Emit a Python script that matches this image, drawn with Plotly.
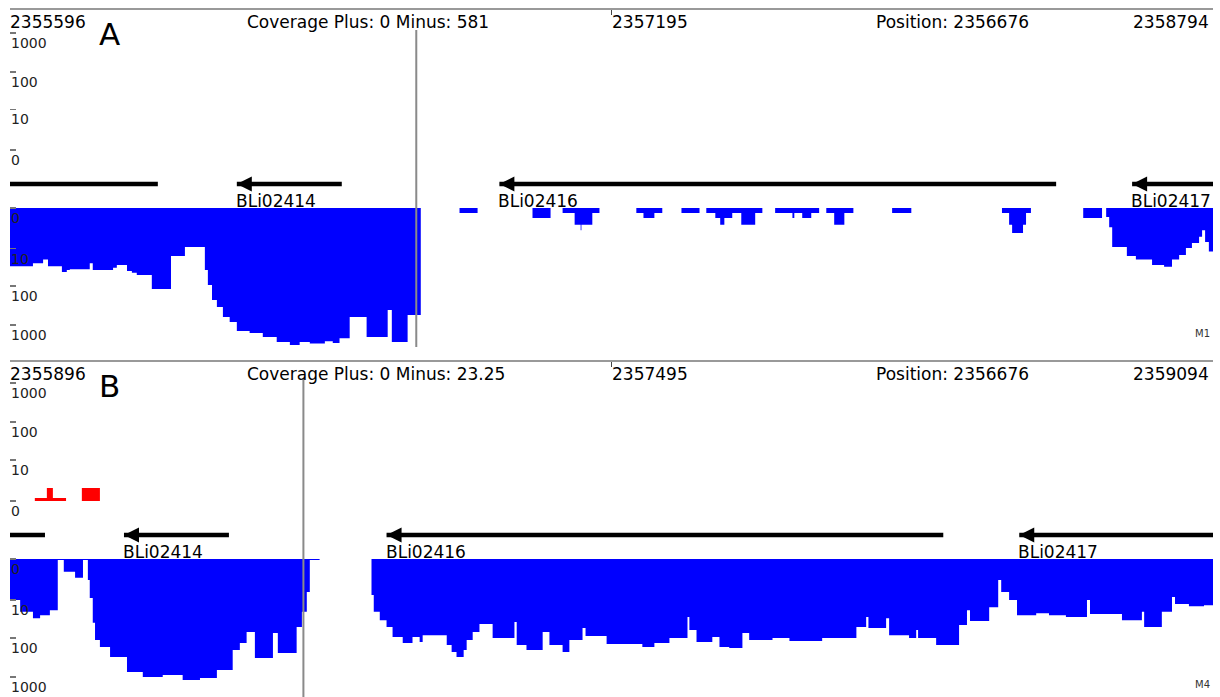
import numpy as np
import plotly.graph_objects as go

W, H = 1220, 697

# ---------------- data ----------------
ruler_a = [2355596, 2357195, 2358794]
ruler_b = [2355896, 2357495, 2359094]
cursor_pos = 2356676
coverage_text_a = "Coverage Plus: 0 Minus: 581"
coverage_text_b = "Coverage Plus: 0 Minus: 23.25"
panel_letters = ["A", "B"]
panel_tags = ["M1", "M4"]
scale_ticks = [0, 10, 100, 1000]

# minus-strand coverage, panel A (segment start position, read count)
minus_a_pos = [2355596, 2355657, 2355684, 2355697, 2355734, 2355747, 2355755, 2355808, 2355816,
               2355870, 2355880, 2355907, 2355920, 2355933, 2355973, 2356024, 2356061, 2356114,
               2356122, 2356133, 2356146, 2356162, 2356180, 2356199, 2356233, 2356268, 2356305,
               2356340, 2356366, 2356393, 2356433, 2356454, 2356472, 2356499, 2356544, 2356600,
               2356611, 2356653, 2356688, 2356791, 2356839, 2356985, 2357033, 2357065, 2357097,
               2357113, 2357115, 2357144, 2357163, 2357261, 2357280, 2357309, 2357330, 2357381,
               2357429, 2357447, 2357471, 2357484, 2357495, 2357516, 2357540, 2357577, 2357596,
               2357630, 2357676, 2357681, 2357702, 2357726, 2357747, 2357766, 2357787, 2357814,
               2357838, 2357941, 2357992, 2358233, 2358252, 2358260, 2358289, 2358297, 2358310,
               2358449, 2358499, 2358510, 2358518, 2358526, 2358565, 2358589, 2358632, 2358664,
               2358685, 2358704, 2358722, 2358738, 2358757, 2358765, 2358773, 2358783, 2358794]
minus_a_cov = [30, 25, 20, 30, 43, 38, 36, 25, 38,
               33, 28, 40, 45, 51, 119, 16, 9, 38,
               93, 229, 345, 621, 835, 1420, 1600, 2030, 2730,
               3260, 2730, 3000, 2600, 2900, 2200, 621, 2030, 412,
               2730, 555, 0, 0.34, 0, 0.8, 0, 0.34, 1.7,
               2.7, 1.7, 0.34, 0, 0.34, 0.8, 0.34, 0, 0.34,
               0, 0.34, 0.8, 1.7, 0.8, 0.34, 1.7, 0.34, 0,
               0.34, 0.8, 0.34, 0.8, 0.34, 0, 0.34, 1.7, 0.34,
               0, 0.34, 0, 0.34, 1.7, 3.4, 1.7, 0.34, 0,
               0.8, 0, 0.7, 2.1, 9, 16, 20, 28, 31,
               20, 15, 9.6, 6.9, 4.5, 2.7, 6.4, 12, 12]

# minus-strand coverage, panel B
minus_b_pos = [2355896, 2355923, 2355957, 2355976, 2356002, 2356023, 2356039, 2356069, 2356090,
               2356103, 2356108, 2356116, 2356122, 2356135, 2356162, 2356207, 2356249, 2356302,
               2356355, 2356401, 2356446, 2356488, 2356507, 2356525, 2356547, 2356595, 2356608,
               2356658, 2356672, 2356685, 2356693, 2356719, 2356857, 2356863, 2356879, 2356897,
               2356913, 2356940, 2356966, 2356985, 2356993, 2357057, 2357070, 2357083, 2357102,
               2357110, 2357126, 2357144, 2357179, 2357237, 2357243, 2357269, 2357312, 2357330,
               2357365, 2357383, 2357418, 2357426, 2357482, 2357577, 2357609, 2357649, 2357697,
               2357702, 2357721, 2357763, 2357782, 2357808, 2357843, 2357861, 2357923, 2357968,
               2358055, 2358146, 2358172, 2358178, 2358225, 2358233, 2358286, 2358305, 2358310,
               2358358, 2358419, 2358440, 2358448, 2358499, 2358523, 2358531, 2358552, 2358573,
               2358624, 2358658, 2358703, 2358759, 2358767, 2358852, 2358905, 2358911, 2358958,
               2358985, 2358993, 2359030, 2359070, 2359094]
minus_b_cov = [10, 21, 31, 26, 19, 0.06, 1.1, 2.0, 0.06,
               2.4, 8.8, 41, 114, 172, 310, 745, 1000, 894,
               1200, 1060, 665, 206, 136, 71, 329, 75, 245,
               53, 21, 5.9, 0.06, 0, 7.2, 21, 35, 53,
               96, 136, 96, 128, 86, 153, 232, 310, 206,
               114, 71, 44, 102, 39, 153, 206, 71, 153,
               232, 114, 56, 90, 145, 172, 136, 102, 29,
               63, 128, 96, 172, 183, 75, 114, 102, 121,
               102, 53, 29, 56, 31, 86, 102, 63, 102,
               153, 47, 19, 37, 16, 2.4, 5.9, 10, 26,
               23, 26, 29, 10, 24, 35, 21, 53, 21,
               8.3, 13, 15, 14, 14]

# plus-strand coverage, panel B
plus_b_pos = [2355896, 2355962, 2355994, 2356010, 2356045, 2356087, 2356135, 2359094]
plus_b_cov = [0, 0.2, 1.15, 0.2, 0, 1.15, 0, 0]

# genes (head = arrow tip, tail = other end); all on the minus strand
gene_names = ["", "BLi02414", "BLi02416", "BLi02417"]
gene_head = [2355200, 2356199, 2356897, 2358579]
gene_tail = [2355989, 2356478, 2358377, 2359700]

# ---------------- helpers ----------------
FONT = "DejaVu Sans"
BLUE = "#0000FF"
RED = "#FF0000"


def tr(c):
    return np.log10(1.0 + np.asarray(c, dtype=float))


def px(x):
    return x / W


def py(y):
    return 1 - y / H


def dom(top, bottom):
    return [1 - bottom / H, 1 - top / H]


def yrange(top, bottom, zero, ppu, reverse=False):
    if reverse:
        return [(bottom - zero) / ppu, -(zero - top) / ppu]
    return [-(bottom - zero) / ppu, (zero - top) / ppu]


fig = go.Figure()

# coverage traces
fig.add_trace(go.Scatter(x=minus_a_pos, y=tr(minus_a_cov), xaxis="x", yaxis="y2",
                         mode="lines", line=dict(width=0, shape="hv", color=BLUE),
                         fill="tozeroy", fillcolor=BLUE, hoverinfo="skip", showlegend=False))
fig.add_trace(go.Scatter(x=minus_b_pos, y=tr(minus_b_cov), xaxis="x2", yaxis="y4",
                         mode="lines", line=dict(width=0, shape="hv", color=BLUE),
                         fill="tozeroy", fillcolor=BLUE, hoverinfo="skip", showlegend=False))
fig.add_trace(go.Scatter(x=plus_b_pos, y=tr(plus_b_cov), xaxis="x2", yaxis="y3",
                         mode="lines", line=dict(width=0, shape="hv", color=RED),
                         fill="tozeroy", fillcolor=RED, hoverinfo="skip", showlegend=False))

annotations = []
shapes = []

panels = [
    dict(xa="x", ya_plus="y", ya_minus="y2", ya_gene="y5", ruler=ruler_a, cov=coverage_text_a,
         top=10, letter=panel_letters[0], tag=panel_tags[0], tag_y=333, line_top=30, line_bot=347,
         gene_label_y=201),
    dict(xa="x2", ya_plus="y3", ya_minus="y4", ya_gene="y6", ruler=ruler_b, cov=coverage_text_b,
         top=362, letter=panel_letters[1], tag=panel_tags[1], tag_y=684, line_top=378, line_bot=697,
         gene_label_y=552),
]

for p in panels:
    # gene bodies
    for name, hd, tl in zip(gene_names, gene_head, gene_tail):
        fig.add_trace(go.Scatter(x=[hd, tl], y=[0.5, 0.5], xaxis=p["xa"], yaxis=p["ya_gene"],
                                 mode="lines", line=dict(color="black", width=4.5),
                                 hoverinfo="skip", showlegend=False))
        if hd >= p["ruler"][0]:
            annotations.append(dict(x=hd, y=0.5, xref=p["xa"], yref=p["ya_gene"],
                                    ax=hd + 45, ay=0.5, axref=p["xa"], ayref=p["ya_gene"],
                                    showarrow=True, arrowhead=2, arrowsize=0.75, arrowwidth=4,
                                    arrowcolor="black", text=""))
            if name:
                annotations.append(dict(x=hd, y=py(p["gene_label_y"]), xref=p["xa"], yref="paper",
                                        xanchor="left", yanchor="middle", showarrow=False,
                                        text=name, xshift=-3,
                                        font=dict(family=FONT, size=17, color="black")))
    # ruler labels
    r = p["ruler"]
    for i, v in enumerate(r):
        annotations.append(dict(x=v, y=py(p["top"] + 12), xref=p["xa"], yref="paper",
                                xanchor="right" if i == 2 else "left", yanchor="middle",
                                showarrow=False, text=str(v), xshift=-2,
                                font=dict(family=FONT, size=17, color="black")))
    annotations.append(dict(x=px(245), y=py(p["top"] + 12), xref="paper", yref="paper",
                            xanchor="left", yanchor="middle", showarrow=False, text=p["cov"],
                            font=dict(family=FONT, size=17, color="black")))
    annotations.append(dict(x=px(874), y=py(p["top"] + 12), xref="paper", yref="paper",
                            xanchor="left", yanchor="middle", showarrow=False,
                            text="Position: " + str(cursor_pos),
                            font=dict(family=FONT, size=17, color="black")))
    annotations.append(dict(x=px(97), y=py(p["top"] + 24), xref="paper", yref="paper",
                            xanchor="left", yanchor="middle", showarrow=False, text=p["letter"],
                            font=dict(family=FONT, size=31, color="black")))
    annotations.append(dict(x=px(1212), y=py(p["tag_y"]), xref="paper", yref="paper",
                            xanchor="right", yanchor="middle", showarrow=False, text=p["tag"],
                            font=dict(family=FONT, size=10, color="#333333")))
    # scale labels
    for ya in (p["ya_plus"], p["ya_minus"]):
        for v in scale_ticks:
            annotations.append(dict(x=px(9), y=float(tr(v)), xref="paper", yref=ya,
                                    xanchor="left", yanchor="top", showarrow=False, text=str(v),
                                    font=dict(family=FONT, size=14, color="#222222")))
    # cursor line
    shapes.append(dict(type="line", xref=p["xa"], yref="paper", x0=cursor_pos, x1=cursor_pos,
                       y0=py(p["line_top"]), y1=py(p["line_bot"]),
                       line=dict(color="#8a8a8a", width=2)))

xdom = [px(10), px(1213)]
tickvals_y = list(tr(scale_ticks))

yaxis_common = dict(showgrid=False, zeroline=False, showline=False, ticks="inside", ticklen=6,
                    tickwidth=1.5, tickcolor="#777777", tickvals=tickvals_y,
                    showticklabels=False, fixedrange=True)
gene_axis = dict(showgrid=False, zeroline=False, showline=False, showticklabels=False,
                 ticks="", range=[0, 1], fixedrange=True)
xaxis_common = dict(domain=xdom, side="top", showline=True, linecolor="#999999", linewidth=2,
                    ticks="inside", ticklen=5, tickwidth=1.5, tickcolor="#444444",
                    showticklabels=False, showgrid=False, zeroline=False, fixedrange=True)

fig.update_layout(
    width=W, height=H, margin=dict(l=0, r=0, t=0, b=0),
    paper_bgcolor="white", plot_bgcolor="white", showlegend=False,
    xaxis=dict(xaxis_common, range=[ruler_a[0], ruler_a[2]], anchor="y", tickvals=ruler_a),
    xaxis2=dict(xaxis_common, range=[ruler_b[0], ruler_b[2]], anchor="y3", tickvals=ruler_b),
    yaxis=dict(yaxis_common, domain=dom(10, 160), range=yrange(10, 160, 150, 39), anchor="x"),
    yaxis2=dict(yaxis_common, domain=dom(200, 347), range=yrange(200, 347, 208, 39, True), anchor="x"),
    yaxis3=dict(yaxis_common, domain=dom(362, 512), range=yrange(362, 512, 501, 39.3), anchor="x2"),
    yaxis4=dict(yaxis_common, domain=dom(550, 697), range=yrange(550, 697, 559, 39.3, True), anchor="x2"),
    yaxis5=dict(gene_axis, domain=dom(176, 192), anchor="x"),
    yaxis6=dict(gene_axis, domain=dom(527, 543), anchor="x2"),
    annotations=annotations,
    shapes=shapes,
)

fig.write_html("out.html", config={"displayModeBar": False, "staticPlot": True},
               post_script="document.body.style.margin='0px';document.body.style.padding='0px';"
                           "document.documentElement.style.overflow='hidden';")
